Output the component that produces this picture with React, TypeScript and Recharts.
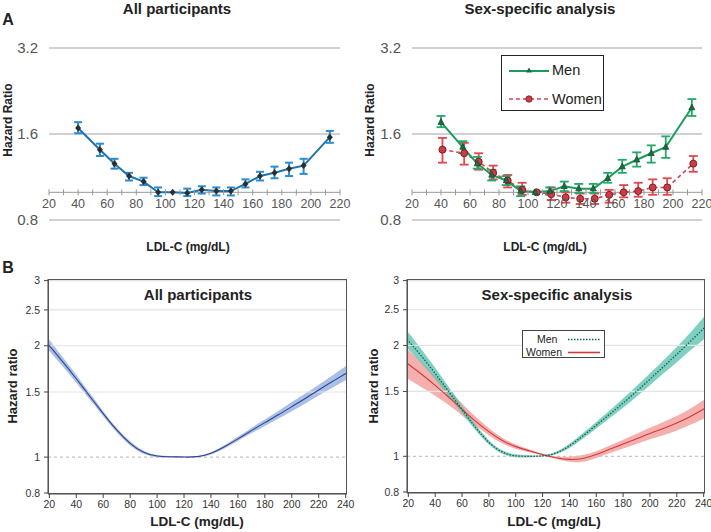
import React from "react";
import { ComposedChart, Line, Area, XAxis, YAxis, CartesianGrid, ErrorBar, ReferenceLine } from "recharts";

// panel A: grouped LDL-C categories
const ldlA = [40, 55, 65, 75, 85, 95, 105, 115, 125, 135, 145, 155, 165, 175, 185, 195, 213];
const ldlWomenA = [41, 56, 66, 76, 86, 96, 106, 116, 126, 136, 146, 156, 166, 176, 186, 196, 214];

const allHR = [1.68, 1.41, 1.26, 1.14, 1.09, 1.0, 1.0, 0.995, 1.02, 1.01, 1.01, 1.07, 1.14, 1.17, 1.21, 1.24, 1.56];
const allLo = [1.61, 1.34, 1.21, 1.1, 1.06, 0.97, 1.0, 0.97, 0.99, 0.975, 0.975, 1.04, 1.1, 1.12, 1.14, 1.16, 1.49];
const allHi = [1.76, 1.48, 1.31, 1.17, 1.125, 1.04, 1.0, 1.03, 1.05, 1.04, 1.04, 1.11, 1.18, 1.23, 1.27, 1.31, 1.64];

const menHR = [1.76, 1.44, 1.26, 1.15, 1.1, 1.01, 1.0, 1.01, 1.05, 1.03, 1.03, 1.12, 1.23, 1.3, 1.37, 1.44, 1.98];
const menLo = [1.69, 1.37, 1.21, 1.1, 1.06, 0.97, 1.0, 0.98, 1.01, 0.995, 0.995, 1.08, 1.17, 1.23, 1.27, 1.32, 1.85];
const menHi = [1.85, 1.51, 1.33, 1.2, 1.14, 1.05, 1.0, 1.04, 1.09, 1.07, 1.07, 1.17, 1.3, 1.38, 1.46, 1.57, 2.12];

const womenHR = [1.41, 1.37, 1.28, 1.17, 1.1, 1.02, 1.0, 0.985, 0.96, 0.95, 0.95, 0.98, 1.0, 1.01, 1.04, 1.04, 1.26];
const womenLo = [1.27, 1.25, 1.2, 1.11, 1.04, 0.98, 1.0, 0.94, 0.92, 0.91, 0.91, 0.92, 0.96, 0.965, 0.98, 0.98, 1.18];
const womenHi = [1.55, 1.49, 1.37, 1.24, 1.15, 1.08, 1.0, 1.04, 1.0, 0.99, 0.99, 1.02, 1.06, 1.08, 1.11, 1.12, 1.34];

const xTicksA = [20, 30, 40, 50, 60, 70, 80, 90, 100, 110, 120, 130, 140, 150, 160, 170, 180, 190, 200, 210, 220];
const yTicksA = [0.8, 1.6, 3.2];

// panel B: restricted cubic spline curves
const ldlB = [19, 30, 40, 50, 60, 70, 80, 90, 100, 110, 120, 130, 140, 150, 160, 170, 180, 190, 200, 210, 220, 230, 241];

const allB = [2.02, 1.81, 1.63, 1.46, 1.31, 1.18, 1.085, 1.025, 1.003, 1.003, 1.0, 1.0, 1.02, 1.065, 1.12, 1.18, 1.24, 1.3, 1.37, 1.44, 1.52, 1.6, 1.69];
const allBLo = [1.95, 1.76, 1.59, 1.43, 1.29, 1.165, 1.07, 1.015, 0.995, 0.998, 0.998, 0.998, 1.012, 1.055, 1.105, 1.16, 1.215, 1.27, 1.33, 1.395, 1.47, 1.54, 1.62];
const allBHi = [2.1, 1.86, 1.67, 1.49, 1.33, 1.195, 1.1, 1.035, 1.01, 1.008, 1.002, 1.004, 1.028, 1.075, 1.135, 1.2, 1.265, 1.33, 1.41, 1.485, 1.57, 1.66, 1.77];

const menB = [2.08, 1.87, 1.68, 1.5, 1.34, 1.195, 1.085, 1.02, 1.0, 1.0, 1.0, 1.015, 1.065, 1.135, 1.215, 1.3, 1.395, 1.5, 1.62, 1.75, 1.89, 2.05, 2.24];
const menBLo = [1.97, 1.79, 1.62, 1.455, 1.31, 1.175, 1.07, 1.01, 0.99, 0.993, 0.997, 1.008, 1.05, 1.115, 1.19, 1.27, 1.355, 1.45, 1.56, 1.68, 1.8, 1.94, 2.09];
const menBHi = [2.19, 1.95, 1.74, 1.545, 1.37, 1.215, 1.1, 1.03, 1.01, 1.007, 1.003, 1.022, 1.08, 1.155, 1.24, 1.33, 1.435, 1.55, 1.68, 1.82, 1.98, 2.16, 2.41];

const womenB = [1.79, 1.67, 1.56, 1.45, 1.34, 1.245, 1.165, 1.1, 1.06, 1.035, 1.01, 0.99, 0.978, 0.983, 1.01, 1.045, 1.08, 1.115, 1.155, 1.19, 1.23, 1.28, 1.35];
const womenBLo = [1.63, 1.54, 1.46, 1.38, 1.29, 1.21, 1.14, 1.08, 1.045, 1.025, 1.005, 0.985, 0.962, 0.962, 0.99, 1.02, 1.05, 1.08, 1.115, 1.14, 1.175, 1.215, 1.27];
const womenBHi = [1.96, 1.8, 1.66, 1.52, 1.39, 1.28, 1.19, 1.12, 1.075, 1.045, 1.015, 0.995, 0.995, 1.005, 1.03, 1.07, 1.11, 1.15, 1.195, 1.24, 1.285, 1.345, 1.43];

const xTicksB = [20, 40, 60, 80, 100, 120, 140, 160, 180, 200, 220, 240];
const yTicksB = [0.8, 1, 1.5, 2, 2.5, 3];
const gridB = [1.5, 2, 2.5, 3];

const FONT = '"Liberation Sans", Arial, sans-serif';

const withErr = (xs: number[], hr: number[], lo: number[], hi: number[]) =>
  xs.map((x, i) => ({
    x,
    hr: hr[i],
    err: hi[i] - lo[i] === 0 ? null : [hr[i] - lo[i], hi[i] - hr[i]],
  }));

const allA = withErr(ldlA, allHR, allLo, allHi);
const menA = withErr(ldlA, menHR, menLo, menHi);
const womenA = withErr(ldlWomenA, womenHR, womenLo, womenHi);

const tableB = ldlB.map((x, i) => ({
  x,
  all: allB[i],
  allBand: [allBLo[i], allBHi[i]],
  men: menB[i],
  menBand: [menBLo[i], menBHi[i]],
  women: womenB[i],
  womenBand: [womenBLo[i], womenBHi[i]],
}));

// panel A geometry
const A_H = 260;
const A_TOP = 48;
const A_BOTTOM = 28;
const A_XH = 12;
const A_PLOT_H = A_H - A_TOP - A_BOTTOM - A_XH;
// x axis sits on HR = 1 inside the log range 0.8..3.2
const A_SHIFT = (A_PLOT_H * Math.log(1 / 0.8)) / Math.log(3.2 / 0.8);

function TickA(props: any) {
  const { x, y, payload } = props;
  const y0 = y - A_SHIFT;
  return (
    <g>
      <line x1={x} x2={x} y1={y0 - 3} y2={y0 + 3} stroke="#999" />
      {payload.value % 20 === 0 && (
        <text x={x} y={y0 + 16} textAnchor="middle" fontSize={12.5} fill="#555" fontFamily={FONT}>
          {payload.value}
        </text>
      )}
    </g>
  );
}

const diamond = (p: any) => (
  <path key={`d${p.index}`} d={`M${p.cx},${p.cy - 3.5}L${p.cx + 3},${p.cy}L${p.cx},${p.cy + 3.5}L${p.cx - 3},${p.cy}Z`} fill="#2d2d2d" />
);
const triangle = (p: any) => (
  <path key={`t${p.index}`} d={`M${p.cx},${p.cy - 3.5}L${p.cx + 3},${p.cy + 2.2}L${p.cx - 3},${p.cy + 2.2}Z`} fill="#1f6b44" stroke="#174d31" strokeWidth={0.8} />
);
const circle = (p: any) => (
  <circle key={`c${p.index}`} cx={p.cx} cy={p.cy} r={3.5} fill="#cf3a44" stroke="#6e1c22" strokeWidth={0.9} />
);

function PanelA({ left, width, yAxisW, right, children }: any) {
  return (
    <div style={{ position: "absolute", left, top: 0 }}>
      <ComposedChart width={width} height={A_H} margin={{ top: A_TOP, right, bottom: A_BOTTOM, left: 0 }}>
        <CartesianGrid vertical={false} stroke="#a3a3a3" strokeWidth={1.2} />
        <XAxis
          type="number"
          dataKey="x"
          domain={[20, 220]}
          ticks={xTicksA}
          interval={0}
          height={A_XH}
          axisLine={false}
          tickLine={false}
          tickSize={0}
          tickMargin={0}
          tick={(p: any) => <TickA {...p} />}
        />
        <YAxis
          scale="log"
          type="number"
          domain={[0.8, 3.2]}
          ticks={yTicksA}
          allowDataOverflow
          width={yAxisW}
          axisLine={false}
          tickLine={false}
          tickSize={0}
          tickMargin={11}
          tickFormatter={(v: number) => v.toFixed(1)}
          tick={{ fontSize: 15, fill: "#555", fontFamily: FONT }}
        />
        <ReferenceLine y={1} stroke="#999" strokeWidth={1} />
        {children}
      </ComposedChart>
    </div>
  );
}

function PanelB({ left, width, yAxisW, right, xAxisH, children }: any) {
  return (
    <div style={{ position: "absolute", left, top: 255 }}>
      <ComposedChart width={width} height={277} data={tableB} margin={{ top: 24, right, bottom: 0, left: 0 }}>
        {gridB.map((g) => (
          <ReferenceLine key={g} y={g} stroke="#e3e3e3" strokeWidth={1.2} />
        ))}
        <ReferenceLine y={1} stroke="#c4c4c4" strokeDasharray="3 3" strokeWidth={1.2} />
        <XAxis
          type="number"
          dataKey="x"
          domain={[19, 241]}
          ticks={xTicksB}
          interval={0}
          height={xAxisH}
          stroke="#444"
          tickSize={4}
          tickMargin={3}
          tick={{ fontSize: 10.5, fill: "#333", fontFamily: FONT }}
        />
        <YAxis
          scale="log"
          type="number"
          domain={[0.795, 3.03]}
          ticks={yTicksB}
          allowDataOverflow
          width={yAxisW}
          stroke="#444"
          tickSize={4}
          tickMargin={4}
          tick={{ fontSize: 10.5, fill: "#333", fontFamily: FONT }}
        />
        {children}
      </ComposedChart>
    </div>
  );
}

function Txt({ x, y, size, bold, rotate, children }: any) {
  return (
    <div
      style={{
        position: "absolute",
        left: x,
        top: y,
        transform: `translate(-50%, -50%)${rotate ? " rotate(-90deg)" : ""}`,
        fontSize: size,
        fontWeight: bold ? 700 : 400,
        whiteSpace: "nowrap",
        lineHeight: 1,
        color: "#222",
      }}
    >
      {children}
    </div>
  );
}

export default function App() {
  return (
    <div
      style={{
        position: "absolute",
        left: 0,
        top: 0,
        width: 711,
        height: 532,
        background: "#fff",
        overflow: "hidden",
        fontFamily: FONT,
      }}
    >
      {/* A: all participants */}
      <PanelA left={0} width={360} yAxisW={49} right={20}>
        <Line data={allA} dataKey="hr" stroke="#1f73b0" strokeWidth={2} dot={diamond} isAnimationActive={false}>
          <ErrorBar dataKey="err" width={4} stroke="#2b8ccf" strokeWidth={2} direction="y" isAnimationActive={false} />
        </Line>
      </PanelA>

      {/* A: sex-specific */}
      <PanelA left={355} width={356} yAxisW={57} right={9}>
        <Line data={womenA} dataKey="hr" stroke="#d24650" strokeWidth={1.6} strokeDasharray="4 3" dot={circle} isAnimationActive={false}>
          <ErrorBar dataKey="err" width={4.5} stroke="#e0474f" strokeWidth={1.8} direction="y" isAnimationActive={false} />
        </Line>
        <Line data={menA} dataKey="hr" stroke="#1c9c5c" strokeWidth={2} dot={triangle} isAnimationActive={false}>
          <ErrorBar dataKey="err" width={4.5} stroke="#25a86a" strokeWidth={1.8} direction="y" isAnimationActive={false} />
        </Line>
      </PanelA>

      {/* B: all participants */}
      <PanelB left={0} width={360} yAxisW={48} right={13} xAxisH={38}>
        <Area dataKey="allBand" type="basis" stroke="none" fill="#8fa8de" fillOpacity={0.75} isAnimationActive={false} />
        <Line dataKey="all" type="basis" stroke="#2c4596" strokeWidth={1.1} dot={false} isAnimationActive={false} />
      </PanelB>

      {/* B: sex-specific */}
      <PanelB left={355} width={356} yAxisW={52} right={6} xAxisH={39}>
        <Area dataKey="womenBand" type="basis" stroke="none" fill="#f39b98" fillOpacity={0.8} isAnimationActive={false} />
        <Area dataKey="menBand" type="basis" stroke="none" fill="#5fc4b1" fillOpacity={0.8} isAnimationActive={false} />
        <Line dataKey="women" type="basis" stroke="#d2383c" strokeWidth={1.1} dot={false} isAnimationActive={false} />
        <Line dataKey="men" type="basis" stroke="#17614f" strokeWidth={1.3} strokeDasharray="1.5 1.5" dot={false} isAnimationActive={false} />
      </PanelB>

      {/* frames for panel B */}
      <div style={{ position: "absolute", left: 48, top: 279, width: 299, height: 215, border: "1px solid #555", boxSizing: "border-box" }} />
      <div style={{ position: "absolute", left: 407, top: 279, width: 298, height: 214, border: "1px solid #555", boxSizing: "border-box" }} />

      {/* legend A */}
      <div style={{ position: "absolute", left: 501, top: 55, width: 103, height: 56, border: "1.3px solid #222", background: "#fff", boxSizing: "border-box" }}>
        <svg width={103} height={56} style={{ position: "absolute", left: 0, top: 0 }}>
          <line x1={7} x2={47} y1={15} y2={15} stroke="#1c9c5c" strokeWidth={2} />
          <path d="M27,11.5L30,16.5L24,16.5Z" fill="#1f6b44" />
          <line x1={7} x2={47} y1={43} y2={43} stroke="#d24650" strokeWidth={1.6} strokeDasharray="4 3" />
          <circle cx={27} cy={43} r={3.2} fill="#cf3a44" stroke="#6e1c22" strokeWidth={0.8} />
        </svg>
        <div style={{ position: "absolute", left: 50, top: 6, fontSize: 14.5, color: "#222" }}>Men</div>
        <div style={{ position: "absolute", left: 50, top: 35, fontSize: 14.5, color: "#222" }}>Women</div>
      </div>

      {/* legend B */}
      <div style={{ position: "absolute", left: 522, top: 330, width: 83, height: 28, border: "1px solid #444", background: "#fff", boxSizing: "border-box" }}>
        <svg width={83} height={28} style={{ position: "absolute", left: 0, top: 0 }}>
          <line x1={45} x2={77} y1={8.5} y2={8.5} stroke="#17614f" strokeWidth={1.3} strokeDasharray="1.5 1.5" />
          <line x1={45} x2={77} y1={21.5} y2={21.5} stroke="#d2383c" strokeWidth={1.6} />
        </svg>
        <div style={{ position: "absolute", left: 14, top: 2, fontSize: 10.5, color: "#222" }}>Men</div>
        <div style={{ position: "absolute", left: 3, top: 15, fontSize: 10.5, color: "#222" }}>Women</div>
      </div>

      {/* texts */}
      <Txt x={177} y={8} size={15} bold>All participants</Txt>
      <Txt x={540} y={8} size={15} bold>Sex-specific analysis</Txt>
      <Txt x={8} y={20} size={16} bold>A</Txt>
      <Txt x={8} y={268} size={16} bold>B</Txt>
      <Txt x={8} y={120} size={12} bold rotate>Hazard Ratio</Txt>
      <Txt x={370} y={120} size={12} bold rotate>Hazard Ratio</Txt>
      <Txt x={188} y={247} size={12} bold>LDL-C (mg/dL)</Txt>
      <Txt x={545} y={247} size={12} bold>LDL-C (mg/dL)</Txt>

      <Txt x={198} y={294} size={15} bold>All participants</Txt>
      <Txt x={557} y={294} size={15} bold>Sex-specific analysis</Txt>
      <Txt x={12} y={386} size={13} bold rotate>Hazard ratio</Txt>
      <Txt x={373} y={386} size={13} bold rotate>Hazard ratio</Txt>
      <Txt x={197} y={522} size={13.5} bold>LDL-C (mg/dL)</Txt>
      <Txt x={554} y={522} size={13.5} bold>LDL-C (mg/dL)</Txt>
    </div>
  );
}
